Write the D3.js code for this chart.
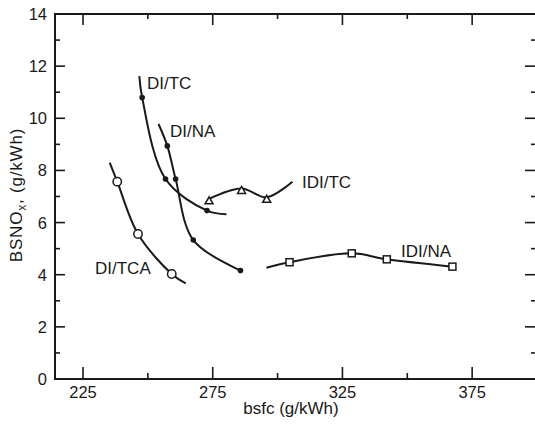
<!DOCTYPE html>
<html><head><meta charset="utf-8">
<script src="https://cdn.jsdelivr.net/npm/d3@7"></script>
<style>
html,body{margin:0;padding:0;background:#fff;}
svg text{font-family:"Liberation Sans",Arial,sans-serif;fill:#1a1a1a;}
</style></head>
<body><svg id="c" width="535" height="427"></svg>
<script>
// ---- data ----
const diTcX  = [246.7, 247.8, 256.8, 272.8, 280.3];
const diTcY  = [11.62, 10.8, 7.67, 6.46, 6.32];
const diTcMarks = [1, 2, 3];

const diNaX  = [254.1, 257.5, 260.7, 267.5, 285.7];
const diNaY  = [9.78, 8.94, 7.67, 5.33, 4.16];
const diNaMarks = [1, 2, 3, 4];

const diTcaX = [235.3, 238.2, 246.2, 259.2, 264.6];
const diTcaY = [8.30, 7.57, 5.56, 4.03, 3.67];
const diTcaMarks = [1, 2, 3];

const idiTcX = [273.6, 286.1, 295.8, 305.7];
const idiTcY = [6.91, 7.31, 6.97, 7.57];
const idiTcMarks = [0, 1, 2];

const idiNaX = [295.7, 304.6, 328.6, 342.1, 367.4];
const idiNaY = [4.27, 4.48, 4.82, 4.59, 4.31];
const idiNaMarks = [1, 2, 3, 4];

const seriesNames = ["DI/TC", "DI/NA", "DI/TCA", "IDI/TC", "IDI/NA"];
const xMajorTicks = [225, 275, 325, 375];
const xMinorTicks = [250, 300, 350];
const yMajorTicks = [0, 2, 4, 6, 8, 10, 12, 14];
const yMinorTicks = [1, 3, 5, 7, 9, 11, 13];
const xDomain = [214.2, 400];
const yDomain = [0, 14];

// ---- layout ----
const svg = d3.select("#c");
const ink = "#1a1a1a";
const x = d3.scaleLinear().domain(xDomain).range([55, 537]);
const y = d3.scaleLinear().domain(yDomain).range([379, 14]);
const L = x.range()[0], R = x.range()[1], B = y.range()[0], T = y.range()[1];

const g = svg.append("g");
// frame
g.append("path").attr("d", `M${R},${T}H${L}V${B}H${R}`)
  .attr("fill","none").attr("stroke",ink).attr("stroke-width",2);

function tickLines(vals, len, axis){
  vals.forEach(v=>{
    if(axis==="b") g.append("line").attr("x1",x(v)).attr("x2",x(v)).attr("y1",B).attr("y2",B-len);
    if(axis==="t") g.append("line").attr("x1",x(v)).attr("x2",x(v)).attr("y1",T).attr("y2",T+len);
    if(axis==="l") g.append("line").attr("y1",y(v)).attr("y2",y(v)).attr("x1",L).attr("x2",L+len);
    if(axis==="r") g.append("line").attr("y1",y(v)).attr("y2",y(v)).attr("x1",R).attr("x2",R-len);
  });
}
tickLines(xMajorTicks, 12, "b"); tickLines(xMinorTicks, 6, "b");
tickLines(xMajorTicks, 11, "t"); tickLines(xMinorTicks, 5, "t");
tickLines(yMajorTicks.slice(1,-1), 10, "l"); tickLines(yMinorTicks, 5, "l");
tickLines(yMajorTicks.slice(1,-1), 12, "r"); tickLines(yMinorTicks, 6, "r");
g.selectAll("line").attr("stroke",ink).attr("stroke-width",1.6);

// tick labels
g.selectAll(".xl").data(xMajorTicks).enter().append("text")
  .attr("x",d=>x(d)).attr("y",398).attr("text-anchor","middle")
  .attr("font-size",16.5).text(d=>d);
g.selectAll(".yl").data(yMajorTicks).enter().append("text")
  .attr("x",47).attr("y",d=>y(d)+6).attr("text-anchor","end")
  .attr("font-size",16.5).text(d=>d);

// axis titles
g.append("text").attr("x",291).attr("y",414).attr("text-anchor","middle")
  .attr("font-size",17).text("bsfc (g/kWh)");
const yt = g.append("text").attr("transform","translate(22,195) rotate(-90)")
  .attr("text-anchor","middle").attr("font-size",17).attr("letter-spacing",0.8);
yt.append("tspan").text("BSNO");
yt.append("tspan").attr("font-size",12).attr("dy",4).text("x");
yt.append("tspan").attr("dy",-4).text(", (g/kWh)");

// curves
const line = d3.line().x(d=>x(d[0])).y(d=>y(d[1])).curve(d3.curveCatmullRom.alpha(0.5));
const series = [
  {xs:diTcX, ys:diTcY, m:diTcMarks, mark:"dot"},
  {xs:diNaX, ys:diNaY, m:diNaMarks, mark:"dot"},
  {xs:diTcaX, ys:diTcaY, m:diTcaMarks, mark:"circle"},
  {xs:idiTcX, ys:idiTcY, m:idiTcMarks, mark:"tri"},
  {xs:idiNaX, ys:idiNaY, m:idiNaMarks, mark:"sq"}
];
series.forEach(s=>{
  const pts = s.xs.map((v,i)=>[v, s.ys[i]]);
  g.append("path").attr("d", line(pts)).attr("fill","none")
    .attr("stroke",ink).attr("stroke-width",2);
});
series.forEach(s=>{
  s.m.forEach(i=>{
    const cx = x(s.xs[i]), cy = y(s.ys[i]);
    if(s.mark==="dot"){
      g.append("circle").attr("cx",cx).attr("cy",cy).attr("r",2.8).attr("fill",ink);
    } else if(s.mark==="circle"){
      g.append("circle").attr("cx",cx).attr("cy",cy).attr("r",4.2)
        .attr("fill","#fff").attr("stroke",ink).attr("stroke-width",1.5);
    } else if(s.mark==="tri"){
      const h=7, w=8, top=cy-2;
      g.append("path").attr("d",`M${cx},${top}L${cx+w/2},${top+h}L${cx-w/2},${top+h}Z`)
        .attr("fill","#fff").attr("stroke",ink).attr("stroke-width",1.5);
    } else {
      g.append("rect").attr("x",cx-3.5).attr("y",cy-3.5).attr("width",7).attr("height",7)
        .attr("fill","#fff").attr("stroke",ink).attr("stroke-width",1.5);
    }
  });
});

// series labels
const labelPos = [[147,89],[170,137],[95,274],[302,188],[401,257]];
seriesNames.forEach((n,i)=>{
  g.append("text").attr("x",labelPos[i][0]).attr("y",labelPos[i][1])
    .attr("font-size",17).text(n);
});
</script></body></html>
